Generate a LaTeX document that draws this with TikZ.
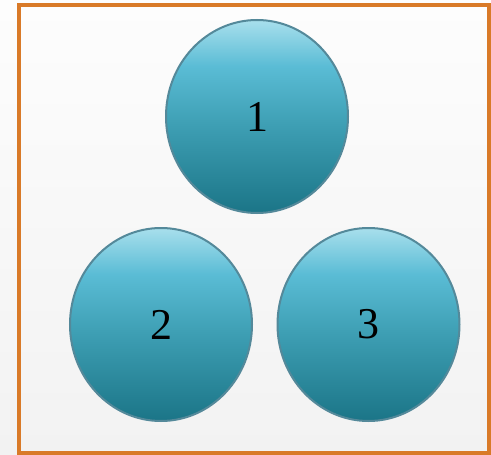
\documentclass[tikz,border=0pt]{standalone}
\usepackage{fontspec}
\setmainfont{Liberation Serif}
\usetikzlibrary{shapes.geometric}
\definecolor{ctop}{HTML}{A8DFEC}
\definecolor{cmid}{HTML}{5ABCD5}
\definecolor{cmid2}{HTML}{3E9FB4}
\definecolor{cbot}{HTML}{1B7587}
\definecolor{cedge}{HTML}{54899A}
\definecolor{frame}{HTML}{D97A28}
\definecolor{bgtop}{HTML}{FDFDFD}
\definecolor{bgbot}{HTML}{F2F2F2}
\pgfdeclareverticalshading{ballshade}{100bp}{color(0bp)=(cbot); color(25bp)=(cbot); color(48bp)=(cmid2); color(63bp)=(cmid); color(75bp)=(ctop); color(100bp)=(ctop)}
\begin{document}
\begin{tikzpicture}[x=1pt,y=-1pt,
  ball/.style={ellipse, minimum width=182pt, minimum height=193pt, inner sep=0pt,
    draw=cedge, line width=2pt, shading=ballshade,
    font=\fontsize{44}{44}\selectfont, text=black}]
\useasboundingbox (0,0) rectangle (491,455);
\shade[top color=bgtop, bottom color=bgbot] (0,0) rectangle (491,455);
\draw[frame, line width=4pt] (19,5) rectangle (489,453);
\node[ball] (n1) at (257,116.5) {1};
\node[ball] (n2) at (161,324.5) {2};
\node[ball] (n3) at (368.5,324.5) {3};
\end{tikzpicture}
\end{document}
